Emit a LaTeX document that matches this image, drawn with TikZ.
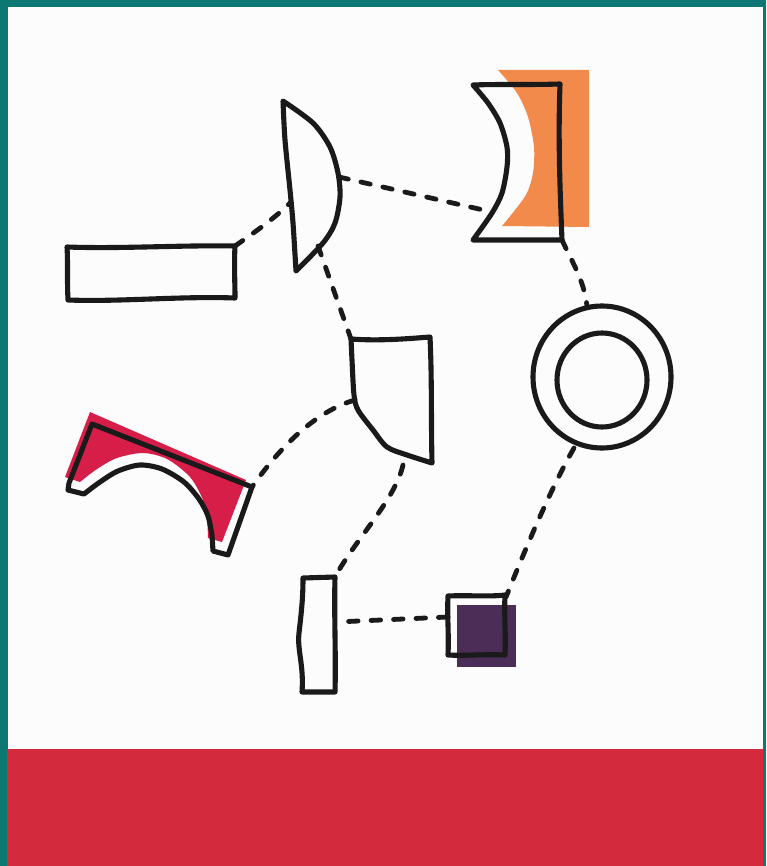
\documentclass[tikz,border=0pt]{standalone}
\usetikzlibrary{calc}
\definecolor{teal}{HTML}{0C7873}
\definecolor{bandred}{HTML}{D32A3E}
\definecolor{lensorange}{HTML}{F28A4B}
\definecolor{archred}{HTML}{D71E48}
\definecolor{sqpurple}{HTML}{4B2D57}
\definecolor{ink}{HTML}{1A1A1A}
\tikzset{
  outline/.style={draw=ink, line width=5.1pt, line join=round, line cap=round},
  link/.style={draw=ink, line width=4.8pt, line cap=round, dash pattern=on 9.5pt off 13pt},
}
\begin{document}
\begin{tikzpicture}[x=1pt,y=-1pt]
\useasboundingbox (0,0) rectangle (766,866);
% frame
\fill[teal] (0,0) rectangle (766,866);
\fill[white!99!black] (8,7) rectangle (763,749);
\fill[bandred] (7,749) rectangle (763,866);

% ---- named connection points
\coordinate (rectR) at (235,246);
\coordinate (lensL) at (290,203);
\coordinate (lensR) at (339,177);
\coordinate (lensB) at (318,246);
\coordinate (concL) at (492,212);
\coordinate (concB) at (562,240);
\coordinate (ringT) at (587,306);
\coordinate (ringB) at (574,448);
\coordinate (midTL) at (351,339);
\coordinate (midL) at (355,400);
\coordinate (midB) at (403,465);
\coordinate (archR) at (252,487);
\coordinate (barT) at (335,577);
\coordinate (barR) at (336,622);
\coordinate (sqL) at (448,617);
\coordinate (sqT) at (506,597);

% ---- fills under outlines
\fill[lensorange] (498,70) -- (589,70) -- (589,227) -- (502,226)
  -- plot[smooth] coordinates {(502,226) (515,210) (527,193) (533,173) (534,147) (528,117) (517,93) (498,70)} -- cycle;
\fill[archred] (90,412) -- (246,480) -- (222,542) -- (208,538)
  -- plot[smooth] coordinates {(208,538) (207,520) (203,500) (190,477) (167,459) (143,453) (117,458) (97,469) (80,482)} -- (65,477) -- cycle;
\fill[sqpurple] (457,605) rectangle (516,667);

% ---- connectors
\draw[link] (rectR) .. controls (255,232) and (275,218) .. (lensL);
\draw[link] (lensR) -- (concL);
\draw[link] (lensB) -- (midTL);
\draw[link] (concB) .. controls (572,262) and (584,280) .. (ringT);
\draw[link] (midL) .. controls (320,410) and (285,440) .. (archR);
\draw[link] (midB) .. controls (395,500) and (355,540) .. (barT);
\draw[link] (ringB) .. controls (550,490) and (525,550) .. (sqT);
\draw[link] (sqL) -- (barR);

% ---- outlines
% left rectangle
\draw[outline] (67,247) .. controls (120,249) and (180,245) .. (235,246)
  .. controls (234,265) and (235,282) .. (235,298)
  .. controls (180,296) and (120,302) .. (68,300)
  .. controls (67,280) and (68,262) .. cycle;
% plano-convex lens
\draw[outline] plot[smooth] coordinates {(283,101) (313,123) (330,147) (338,173) (340,197) (335,223) (323,243) (296,271)}
  -- plot[smooth] coordinates {(296,271) (293,223) (290,190) (285,140) (283,101)} -- cycle;
% concave lens
\draw[outline] (473,85) .. controls (500,84) and (530,85) .. (560,84)
  .. controls (558,140) and (560,190) .. (562,240)
  -- (473,240)
  -- plot[smooth] coordinates {(473,240) (492,213) (502,193) (507,167) (507,147) (500,123) (488,103) (473,85)} -- cycle;
% ring
\draw[outline] (602,377) ellipse[x radius=69, y radius=71];
\draw[outline] (602,380) ellipse[x radius=45, y radius=47];
% middle shape
\draw[outline] (351,339) .. controls (378,341) and (405,339) .. (430,337)
  .. controls (432,380) and (431,420) .. (432,463)
  -- plot[smooth] coordinates {(432,463) (407,455) (387,447) (373,430) (358,410) (354,395) (352,360) (351,339)} -- cycle;
% arch
\draw[outline] (92,424) -- (252,487) -- (228,555) -- (213,551) -- (212,535)
  -- plot[smooth] coordinates {(212,535) (208,516) (199,499) (184,482) (162,469) (140,465) (118,471) (100,482) (84,494)}
  -- (68,490) -- (69,483) -- cycle;
% small vertical bar
\draw[outline] (303,578) -- (335,577) .. controls (334,615) and (336,655) .. (335,692)
  -- (302,692) .. controls (304,665) and (297,650) .. (299,633) .. controls (301,615) and (303,600) .. cycle;
% small square
\draw[outline] (448,596) .. controls (468,595) and (488,597) .. (505,595)
  .. controls (504,615) and (506,635) .. (505,655)
  .. controls (485,654) and (465,656) .. (448,655)
  .. controls (449,635) and (447,615) .. cycle;
\end{tikzpicture}
\end{document}
